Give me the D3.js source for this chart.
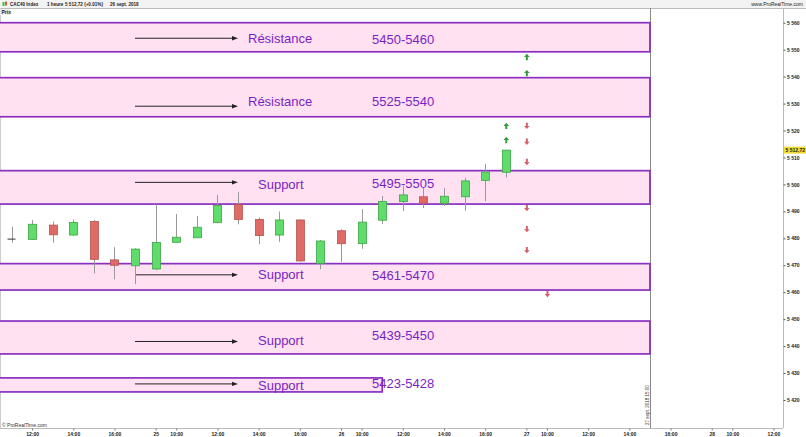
<!DOCTYPE html>
<html><head><meta charset="utf-8">
<script src="https://cdn.jsdelivr.net/npm/d3@7/dist/d3.min.js"></script>
<style>body{margin:0;background:#fff;} svg{display:block;font-family:"Liberation Sans",Arial,sans-serif;}</style>
</head><body><svg id="c" width="806" height="437"></svg>
<script>
// ---------- DATA ----------
const times = ["24 11:00","24 12:00","24 13:00","24 14:00","24 15:00","24 16:00","24 17:00",
  "25 09:00","25 10:00","25 11:00","25 12:00","25 13:00","25 14:00","25 15:00","25 16:00","25 17:00",
  "26 09:00","26 10:00","26 11:00","26 12:00","26 13:00","26 14:00","26 15:00","26 16:00","26 17:00"];
const open  = [5479.6,5479.6,5484.9,5481.2,5486.2,5472.0,5469.8,5468.6,5478.5,5480.2,5485.8,5492.5,5487.0,5481.2,5486.8,5470.7,5482.8,5478.0,5486.7,5493.6,5495.4,5493.0,5495.4,5501.5,5504.5];
const high  = [5484.3,5486.8,5486.2,5487.0,5486.8,5476.7,5476.3,5492.6,5489.0,5488.3,5496.1,5497.1,5487.8,5489.9,5487.0,5479.4,5483.3,5490.8,5495.7,5499.5,5498.8,5498.6,5502.3,5507.6,5512.8];
const low   = [5478.4,5479.4,5478.4,5481.0,5467.0,5464.8,5463.0,5468.2,5478.5,5480.2,5485.6,5485.2,5477.8,5478.7,5471.3,5468.5,5471.3,5476.1,5485.3,5490.1,5491.2,5492.0,5490.2,5493.8,5502.6];
const close = [5479.7,5485.2,5481.3,5485.9,5472.2,5470.0,5476.0,5478.5,5480.4,5484.1,5492.2,5487.0,5481.0,5486.8,5471.6,5479.0,5478.0,5486.0,5493.7,5496.1,5493.0,5495.6,5501.3,5504.6,5512.72];

const bandHigh  = [5560.0,5539.6,5505.1,5470.6,5449.3,5428.2];
const bandLow   = [5549.2,5525.1,5492.7,5460.8,5437.1,5423.0];
const bandEnd   = ["27 15:00","27 15:00","27 15:00","27 15:00","27 15:00","26 11:00"];
const bandKind  = ["Résistance","Résistance","Support","Support","Support","Support"];
const bandRange = ["5450-5460","5525-5540","5495-5505","5461-5470","5439-5450","5423-5428"];

const upTimes    = ["27 09:00","27 09:00","26 17:00","26 17:00"];
const upPrices   = [5547.3,5541.3,5521.7,5516.5];
const downTimes  = ["27 09:00","27 09:00","27 09:00","27 09:00","27 09:00","27 09:00","27 10:00"];
const downPrices = [5521.7,5515.8,5508.3,5491.2,5483.4,5475.6,5459.3];

const yTicks = d3.range(5420, 5561, 10);
const xTickTimes  = ["24 12:00","24 14:00","24 16:00","25 09:00","25 10:00","25 12:00","25 14:00","25 16:00",
  "26 09:00","26 10:00","26 12:00","26 14:00","26 16:00","27 09:00","27 10:00","27 12:00","27 14:00","27 16:00",
  "28 09:00","28 10:00","28 12:00"];
const xTickLabels = ["12:00","14:00","16:00","25","10:00","12:00","14:00","16:00",
  "26","10:00","12:00","14:00","16:00","27","10:00","12:00","14:00","16:00","28","10:00","12:00"];
const lastPrice = 5512.72;
const markerTime = "27 15:00";

// ---------- LAYOUT ----------
const svg = d3.select("#c");
const W = 806, H = 437, plotR = 783, plotT = 8, plotB = 428;
const slot = t => { const [d, hm] = t.split(" "); return (+d - 24) * 9 + (+hm.split(":")[0] - 9); };
const x = d3.scaleLinear().domain([2, 39]).range([11.5, 773.5]);
const y = d3.scaleLinear().domain([5420, 5560]).range([400, 22.7]);

// header
svg.append("rect").attr("x",0).attr("y",0).attr("width",W).attr("height",plotT).attr("fill","#f3f3f3");
svg.append("line").attr("x1",0).attr("x2",W).attr("y1",plotT+0.5).attr("y2",plotT+0.5).attr("stroke","#bbb");
svg.append("rect").attr("x",2.5).attr("y",2).attr("width",2).attr("height",4).attr("fill","#3c3");
svg.append("rect").attr("x",5).attr("y",1.5).attr("width",2).attr("height",4).attr("fill","#d55");
const hdr = [["CAC40 Index",10],["1 heure",47],["5 512,72 (+0.01%)",65],["26 sept. 2018",110]];
hdr.forEach(([t,px]) => svg.append("text").attr("x",px).attr("y",6).attr("font-size",4.6).attr("font-weight","bold").attr("fill","#222").text(t));
svg.append("text").attr("x",803).attr("y",6).attr("text-anchor","end").attr("font-size",5).attr("fill","#222").text("www.ProRealTime.com");

// plot frame
svg.append("line").attr("x1",0.5).attr("x2",0.5).attr("y1",plotT).attr("y2",plotB).attr("stroke","#ccc");
svg.append("line").attr("x1",plotR+0.5).attr("x2",plotR+0.5).attr("y1",plotT).attr("y2",plotB).attr("stroke","#bbb");
svg.append("line").attr("x1",0).attr("x2",plotR).attr("y1",plotB+0.5).attr("y2",plotB+0.5).attr("stroke","#bbb");
svg.append("rect").attr("x",0).attr("y",plotT+1).attr("width",10).attr("height",6).attr("fill","#eee");
svg.append("text").attr("x",1.5).attr("y",plotT+5.5).attr("font-size",5).attr("font-weight","bold").attr("fill","#222").text("Prix");

// marker vertical line
const mx = Math.round(x(slot(markerTime))) + 0.5;
svg.append("line").attr("x1",mx).attr("x2",mx).attr("y1",plotT).attr("y2",plotB).attr("stroke","#888");
svg.append("text").attr("transform",`translate(${mx-2},425) rotate(-90)`).attr("font-size",4.5).attr("fill","#333").text("27 sept. 2018 15:00");

// bands
const purple = "#8a2fc0", textPurple = "#7a1fc4";
const kindDy = [1,4,-3,-2,3,1], rangeDy = [2,4,-4,-1,-2,-1], arrowDy = [1,9,-5,-2,4,-1];
const kindX = k => k === "Support" ? 258 : 248;
bandHigh.forEach((hv,i) => {
  const y0 = y(hv), y1 = y(bandLow[i]), xe = x(slot(bandEnd[i]));
  svg.append("rect").attr("x",-2).attr("y",y0).attr("width",xe+2).attr("height",y1-y0)
    .attr("fill","#ffe1f2").attr("stroke",purple).attr("stroke-width",1.7);
});
bandHigh.forEach((hv,i) => {
  const y0 = y(hv), y1 = y(bandLow[i]);
  const cy = (y0+y1)/2;
  const ay = cy + arrowDy[i];
  svg.append("line").attr("x1",135).attr("x2",233).attr("y1",ay).attr("y2",ay).attr("stroke","#222").attr("stroke-width",1);
  svg.append("path").attr("d",`M238,${ay} L232,${ay-2.2} L232,${ay+2.2} Z`).attr("fill","#222");
  svg.append("text").attr("x",kindX(bandKind[i])).attr("y",cy+kindDy[i]).attr("dominant-baseline","central")
    .attr("font-size",13).attr("fill",textPurple).text(bandKind[i]);
  svg.append("text").attr("x",372).attr("y",cy+rangeDy[i]).attr("dominant-baseline","central")
    .attr("font-size",13).attr("fill",textPurple).text(bandRange[i]);
});

// candles
const g = svg.append("g");
times.forEach((t,i) => {
  const cx = x(slot(t));
  const up = close[i] >= open[i];
  g.append("line").attr("x1",Math.round(cx)+0.5).attr("x2",Math.round(cx)+0.5)
    .attr("y1",y(high[i])).attr("y2",y(low[i])).attr("stroke","#999").attr("stroke-width",1);
  const top = y(Math.max(open[i],close[i])), bot = y(Math.min(open[i],close[i]));
  if (bot - top < 1) {
    g.append("line").attr("x1",cx-4).attr("x2",cx+4).attr("y1",top).attr("y2",top).attr("stroke","#333");
  } else {
    g.append("rect").attr("x",Math.round(cx)-3.5).attr("y",top).attr("width",8).attr("height",bot-top)
      .attr("fill", up ? "#5fdc6a" : "#e06a66").attr("stroke", up ? "#3ea548" : "#b5554f").attr("stroke-width",0.8);
  }
});

// signal arrows (dir 1 = up, -1 = down)
const arrowPath = (cx, cy, dir) => {
  const h = 3.2*dir;
  return `M${cx},${cy-h} L${cx+2.8},${cy} L${cx+1},${cy} L${cx+1},${cy+h} L${cx-1},${cy+h} L${cx-1},${cy} L${cx-2.8},${cy} Z`;
};
upTimes.forEach((t,i) => svg.append("path").attr("d",arrowPath(x(slot(t))+0.5, y(upPrices[i]), 1)).attr("fill","#2f9e3a"));
downTimes.forEach((t,i) => svg.append("path").attr("d",arrowPath(x(slot(t))+0.5, y(downPrices[i]), -1)).attr("fill","#d4626a"));

// y axis
const yAxis = d3.axisRight(y).tickValues(yTicks).tickSize(2).tickPadding(1.5)
  .tickFormat(d => d3.format(",")(d).replace(",", " "));
const ya = svg.append("g").attr("transform",`translate(${plotR+0.5},0)`).call(yAxis);
ya.select(".domain").remove();
ya.selectAll("text").attr("font-size",5).attr("font-weight","bold").attr("fill","#222").attr("font-family","Liberation Sans, Arial, sans-serif");
ya.selectAll("line").attr("stroke","#555");

// last price tag
const ly = y(lastPrice);
svg.append("rect").attr("x",plotR+1).attr("y",ly-3.5).attr("width",W-plotR-1).attr("height",7).attr("fill","#f1dc3a");
svg.append("text").attr("x",plotR+2.5).attr("y",ly).attr("dominant-baseline","central").attr("font-size",5).attr("font-weight","bold").attr("fill","#222").text("5 512,72");

// x axis
const xAxis = d3.axisBottom(x).tickValues(xTickTimes.map(slot)).tickSize(2).tickPadding(2)
  .tickFormat((d,i) => xTickLabels[i]);
const xa = svg.append("g").attr("transform",`translate(0,${plotB+0.5})`).call(xAxis);
xa.select(".domain").remove();
xa.selectAll("text").attr("font-size",5).attr("font-weight","bold").attr("fill","#222").attr("font-family","Liberation Sans, Arial, sans-serif");
xa.selectAll("line").attr("stroke","#777");

svg.append("text").attr("x",2).attr("y",427).attr("font-size",5).attr("fill","#333").text("© ProRealTime.com");
</script></body></html>
